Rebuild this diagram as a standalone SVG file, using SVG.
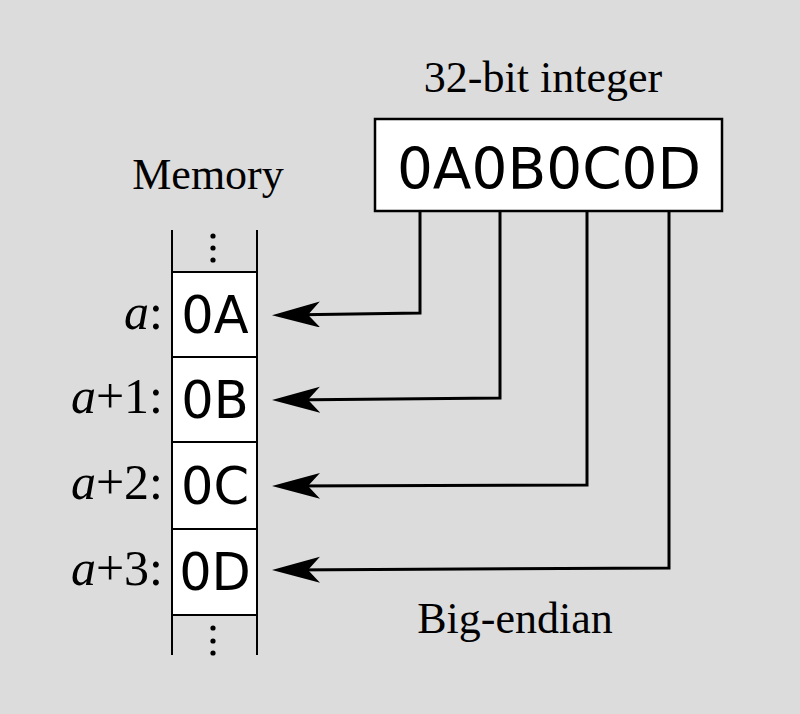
<svg xmlns="http://www.w3.org/2000/svg" width="800" height="714" viewBox="0 0 800 714">
<style>
.serif{font-family:"Liberation Serif","Times New Roman",serif;font-size:44px;fill:#000}
.lbl{font-family:"Liberation Serif","Times New Roman",serif;font-size:50px;fill:#000}
.sans{font-family:"DejaVu Sans",sans-serif;fill:#000}
.conn{fill:none;stroke:#000;stroke-width:3}
.cell{fill:#fff;stroke:#000;stroke-width:2}
</style>
<defs>
<marker id="arr" markerUnits="userSpaceOnUse" markerWidth="50" markerHeight="30" refX="35" refY="13" orient="auto" viewBox="0 0 50 30">
<path d="M48,13 L0,0 L12,13 L0,26 Z" fill="#000"/>
</marker>
</defs>
<rect width="800" height="714" fill="#dcdcdc"/>
<g id="integer">
<text class="serif" x="543" y="92" text-anchor="middle">32-bit integer</text>
<rect x="375" y="119" width="347" height="92" fill="#fff" stroke="#000" stroke-width="2.5"/>
<text class="sans" x="549" y="189" text-anchor="middle" font-size="56.5">0A0B0C0D</text>
</g>
<g id="memory">
<text class="serif" x="208" y="189" text-anchor="middle" font-size="45.5">Memory</text>
<rect class="cell" x="172" y="272" width="85" height="343"/>
<line x1="172" y1="357" x2="257" y2="357" stroke="#000" stroke-width="2"/>
<line x1="172" y1="442" x2="257" y2="442" stroke="#000" stroke-width="2"/>
<line x1="172" y1="529" x2="257" y2="529" stroke="#000" stroke-width="2"/>
<line x1="172" y1="230" x2="172" y2="655" stroke="#000" stroke-width="2"/>
<line x1="257" y1="230" x2="257" y2="655" stroke="#000" stroke-width="2"/>
<g fill="#000">
<circle cx="213" cy="236" r="2.6"/><circle cx="213" cy="248" r="2.6"/><circle cx="213" cy="260" r="2.6"/>
<circle cx="213" cy="628" r="2.6"/><circle cx="213" cy="641" r="2.6"/><circle cx="213" cy="653" r="2.6"/>
</g>
</g>
<g id="cell-a">
<text class="lbl" x="163" y="329" text-anchor="end"><tspan font-style="italic">a</tspan>:</text>
<text class="sans" x="215" y="333" text-anchor="middle" font-size="51">0A</text>
</g>
<g id="cell-a1">
<text class="lbl" x="163" y="413" text-anchor="end"><tspan font-style="italic">a</tspan>+1:</text>
<text class="sans" x="215" y="418" text-anchor="middle" font-size="51">0B</text>
</g>
<g id="cell-a2">
<text class="lbl" x="163" y="499" text-anchor="end"><tspan font-style="italic">a</tspan>+2:</text>
<text class="sans" x="215" y="504" text-anchor="middle" font-size="51">0C</text>
</g>
<g id="cell-a3">
<text class="lbl" x="163" y="585" text-anchor="end"><tspan font-style="italic">a</tspan>+3:</text>
<text class="sans" x="215" y="590" text-anchor="middle" font-size="51">0D</text>
</g>
<text class="serif" x="515" y="633" text-anchor="middle" font-size="44.5">Big-endian</text>
<g id="connectors">
<polyline class="conn" points="420,211 420,313 285,315" marker-end="url(#arr)"/>
<polyline class="conn" points="500,211 500,398 285,400" marker-end="url(#arr)"/>
<polyline class="conn" points="587,211 587,485 285,486" marker-end="url(#arr)"/>
<polyline class="conn" points="669,211 669,568 285,570" marker-end="url(#arr)"/>
</g>
</svg>
